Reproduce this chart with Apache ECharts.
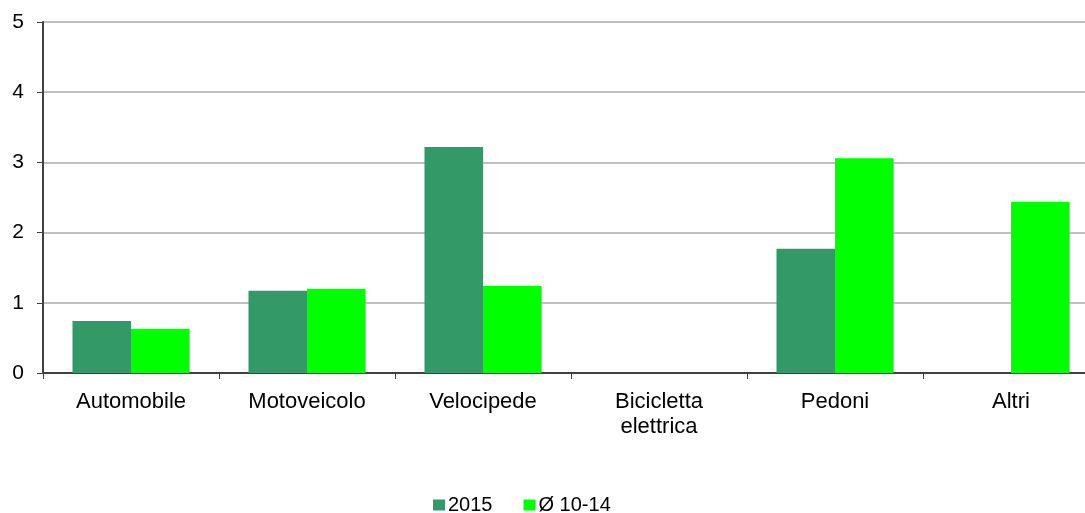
<!DOCTYPE html>
<html>
<head>
<meta charset="utf-8">
<script src="https://cdn.jsdelivr.net/npm/echarts@6/dist/echarts.min.js"></script>
<style>
  html, body { margin: 0; padding: 0; background: #fff; }
  #main { width: 1085px; height: 513px; }
</style>
</head>
<body>
<div id="main"></div>
<script>
var categories = ['Automobile', 'Motoveicolo', 'Velocipede', 'Bicicletta\nelettrica', 'Pedoni', 'Altri'];
var values2015 = [0.74, 1.17, 3.22, 0, 1.77, 0];
var valuesAvg = [0.63, 1.20, 1.24, 0, 3.06, 2.44];
var yTicks = [0, 1, 2, 3, 4, 5];

var myChart = echarts.init(document.getElementById('main'));
var font = 'Liberation Sans, Arial, sans-serif';

var option = {
    backgroundColor: '#ffffff',
    animation: false,
    textStyle: { fontFamily: font },
    grid: {
        left: 43,
        width: 1056,
        top: 22,
        bottom: 140,
        containLabel: false,
        outerBoundsMode: 'none'
    },
    legend: {
        bottom: -7,
        left: 428,
        itemWidth: 12,
        itemHeight: 11,
        itemGap: 31,
        icon: 'rect',
        textStyle: { fontSize: 20, color: '#000', fontFamily: font, padding: [0, 0, 0, -2] },
        data: ['2015', 'Ø 10-14']
    },
    xAxis: {
        type: 'category',
        data: categories,
        axisLine: { lineStyle: { color: '#404040', width: 2 } },
        axisTick: { show: true, length: 6, lineStyle: { color: '#404040' } },
        axisLabel: { fontSize: 22, color: '#000', margin: 16, lineHeight: 25, fontFamily: font }
    },
    yAxis: {
        type: 'value',
        min: yTicks[0],
        max: yTicks[yTicks.length - 1],
        interval: 1,
        axisLine: { show: true, lineStyle: { color: '#404040', width: 2 } },
        axisTick: { show: true, length: 6, lineStyle: { color: '#404040' } },
        axisLabel: { fontSize: 21, color: '#000', margin: 19, fontFamily: font },
        splitLine: { lineStyle: { color: '#c0c0c0', width: 2 } }
    },
    series: [
        {
            name: '2015',
            type: 'bar',
            data: values2015,
            barGap: '0%',
            barCategoryGap: '33.5%',
            itemStyle: { color: '#339966' }
        },
        {
            name: 'Ø 10-14',
            type: 'bar',
            data: valuesAvg,
            itemStyle: { color: '#00ff00' }
        }
    ],
    graphic: [
        {
            type: 'line',
            shape: { x1: 43, y1: 22, x2: 1085, y2: 22 },
            style: { stroke: '#808080', lineWidth: 2 }
        }
    ]
};

myChart.setOption(option);
</script>
</body>
</html>
